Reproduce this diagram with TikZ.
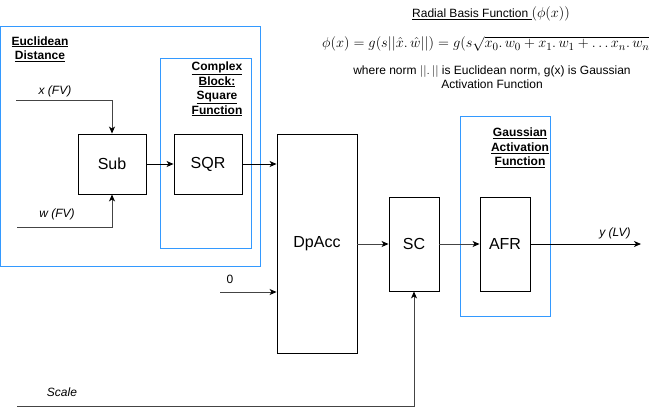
\documentclass[tikz,border=0pt]{standalone}
\usepackage{fontspec}
\setmainfont{Liberation Sans}
\usetikzlibrary{arrows.meta,positioning}
\definecolor{groupblue}{HTML}{3399FF}
\definecolor{wiregray}{HTML}{444444}

\begin{document}
\begin{tikzpicture}[x=1pt,y=-1pt,
    blk/.style={draw,rectangle,line width=0.9pt,inner sep=0pt,font=\fontsize{16}{18}\selectfont},
    grp/.style={draw=groupblue,line width=0.9pt,inner sep=0pt},
    ttl/.style={font=\fontsize{12}{14.5}\selectfont\bfseries,align=center},
    sig/.style={font=\fontsize{12}{14}\selectfont\itshape},
    note/.style={font=\fontsize{12}{14}\selectfont,align=center},
    wire/.style={line width=0.9pt,-{Stealth[length=7pt,width=6pt,inset=2pt,color=black]}}]

    \useasboundingbox (0,0) rectangle (650,416);

    % group frames
    \node[grp,minimum width=260pt,minimum height=240pt] (euclid) at (130,146) {};
    \node[grp,minimum width=91pt,minimum height=190pt] (cplx) at (205.5,153) {};
    \node[grp,minimum width=90pt,minimum height=200pt] (gauss) at (505,216) {};
    \node[ttl] (euclidlbl) at (40,49) {\underline{Euclidean}\\\underline{Distance}};
    \node[ttl] (cplxlbl) at (217,89) {\underline{Complex}\\\underline{Block:}\\\underline{Square}\\\underline{Function}};
    \node[ttl] (gausslbl) at (520,148) {\underline{Gaussian}\\\underline{Activation}\\\underline{Function}};

    % blocks
    \node[blk,minimum width=68pt,minimum height=60pt] (sub) at (112,164) {Sub};
    \node[blk,minimum width=68pt,minimum height=60pt] (sqr) at (208,164) {SQR};
    \node[blk,minimum width=80pt,minimum height=219pt] (dpacc) at (317,244) {DpAcc};
    \node[blk,minimum width=50pt,minimum height=94pt] (sc) at (414,244) {SC};
    \node[blk,minimum width=50pt,minimum height=94pt] (afr) at (505,244) {AFR};

    % inputs and output
    \coordinate (xin) at (16,100);
    \coordinate (win) at (17,227);
    \coordinate (zin) at (220,292);
    \coordinate (sin) at (17,406);
    \coordinate (yout) at (641,244);
    \node[sig] (xlbl) at (55,91) {x (FV)};
    \node[sig] (wlbl) at (57,214) {w (FV)};
    \node[note] (zlbl) at (230,279) {0};
    \node[sig] (slbl) at (62,392) {Scale};
    \node[sig] (ylbl) at (615,233) {y (LV)};

    \draw[wire,wiregray] (xin) -| (sub.north);
    \draw[wire,wiregray] (win) -| (sub.south);
    \draw[wire] (sub) -- (sqr);
    \draw[wire] (sqr.east) -- (sqr.east -| dpacc.west);
    \draw[wire,wiregray] (zin) -- (zin -| dpacc.west);
    \draw[wire,wiregray] (dpacc) -- (sc);
    \draw[wire,wiregray] (sc) -- (afr);
    \draw[wire] (afr) -- (yout);
    \draw[wire,wiregray] (sin) -| (sc.south);

    % formula text
    \node[note] (rbftitle) at (491,14) {\underline{Radial Basis Function\ }{\fontsize{14}{14}\selectfont$(\phi(x))$}};
    \node[anchor=west,inner sep=0pt,font=\fontsize{15}{16}\selectfont] (rbfeq) at (322,44)
        {$\phi(x)=g(s||\hat{x}.\,\hat{w}||)=g(s\sqrt{x_0.\,w_0+x_1.\,w_1+\ldots x_n.\,w_n})$};
    \node[note] (rbfnote) at (492,77) {where norm $||.\,||$ is Euclidean norm, g(x) is Gaussian\\Activation Function};
\end{tikzpicture}
\end{document}
